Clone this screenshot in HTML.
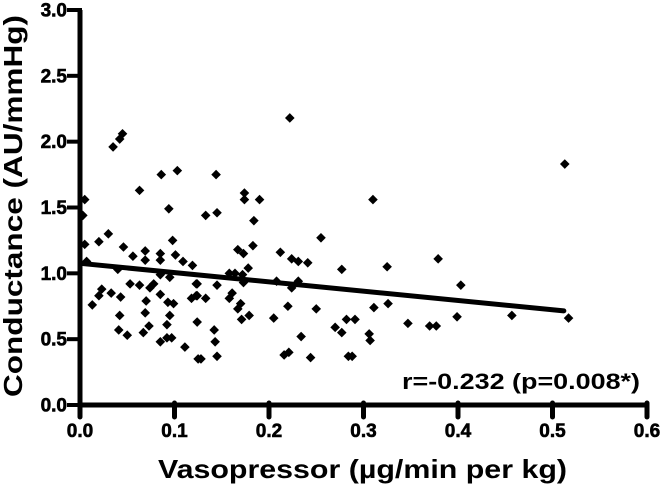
<!DOCTYPE html>
<html><head><meta charset="utf-8"><style>
html,body{margin:0;padding:0;background:#fff;}
svg{display:block;font-family:"Liberation Sans",Arial,sans-serif;font-weight:bold;}
svg text{font-weight:bold;}
.tl{font-family:"Liberation Sans",Arial,sans-serif;font-weight:700;font-size:19px;fill:#000;stroke:#000;stroke-width:0.6px;}
</style></head><body>
<svg id="chart" width="662" height="486" viewBox="0 0 662 486" xmlns="http://www.w3.org/2000/svg">
<g id="axes"></g>
<g id="pts"></g>
<g id="fit"></g>
<text x="640" y="389" text-anchor="end" font-size="22" font-weight="bold" textLength="238" lengthAdjust="spacingAndGlyphs">r=-0.232 (p=0.008*)</text>
<text x="158" y="478" font-size="26" font-weight="bold" textLength="409" lengthAdjust="spacingAndGlyphs">Vasopressor (µg/min per kg)</text>
<text transform="translate(22,206) rotate(-90)" text-anchor="middle" font-size="26" font-weight="bold" textLength="382" lengthAdjust="spacingAndGlyphs">Conductance (AU/mmHg)</text>
</svg>
<script>
const xTicks=[0,0.1,0.2,0.3,0.4,0.5,0.6];
const xTickLabels=["0.0","0.1","0.2","0.3","0.4","0.5","0.6"];
const yTicks=[0,0.5,1,1.5,2,2.5,3];
const yTickLabels=["0.0","0.5","1.0","1.5","2.0","2.5","3.0"];
const xVals=[0.045,0.042,0.035,0.086,0.103,0.063,0.005,0.003,0.094,0.03,0.005,0.020,0.098,0.046,0.056,0.069,0.069,0.085,0.085,0.101,0.109,0.119,0.007,0.04,0.085,0.095,0.053,0.063,0.074,0.078,0.123,0.023,0.020,0.033,0.043,0.085,0.070,0.093,0.099,0.118,0.123,0.013,0.042,0.069,0.095,0.092,0.073,0.041,0.05,0.067,0.092,0.097,0.085,0.111,0.125,
0.222,0.144,0.174,0.174,0.190,0.133,0.145,0.184,0.255,0.167,0.173,0.183,0.212,0.224,0.231,0.241,0.178,0.158,0.164,0.172,0.173,0.208,0.231,0.224,0.124,0.145,0.124,0.133,0.161,0.158,0.170,0.167,0.179,0.171,0.220,0.250,0.205,0.124,0.142,0.143,0.145,0.128,0.234,0.216,0.221,0.244,
0.513,0.310,0.379,0.277,0.325,0.403,0.311,0.326,0.282,0.291,0.270,0.277,0.306,0.307,0.347,0.370,0.377,0.399,0.457,0.517,0.284,0.288];
const yVals=[2.06,2.02,1.96,1.75,1.78,1.63,1.56,1.44,1.49,1.30,1.22,1.24,1.25,1.20,1.13,1.17,1.10,1.15,1.10,1.14,1.09,1.06,1.09,1.03,0.99,0.97,0.92,0.91,0.89,0.92,0.92,0.88,0.83,0.85,0.82,0.84,0.79,0.78,0.77,0.81,0.83,0.76,0.68,0.70,0.68,0.61,0.60,0.57,0.53,0.55,0.51,0.51,0.48,0.44,0.35,
2.18,1.75,1.61,1.56,1.56,1.44,1.46,1.40,1.27,1.18,1.15,1.21,1.16,1.11,1.09,1.08,1.04,1.00,1.00,0.99,0.93,0.94,0.94,0.89,0.92,0.91,0.83,0.81,0.85,0.81,0.77,0.73,0.68,0.65,0.75,0.73,0.66,0.63,0.57,0.48,0.37,0.35,0.52,0.38,0.40,0.36,
1.83,1.56,1.11,1.03,1.05,0.91,0.74,0.77,0.65,0.65,0.59,0.55,0.54,0.49,0.62,0.60,0.60,0.67,0.68,0.66,0.37,0.37];
const fitIntercept=1.076;
const fitSlope=-0.705;
const fitRange=[0,0.512];

const NS="http://www.w3.org/2000/svg";
const X=v=>80+v*945;
const Y=v=>405-v*131.67;
function mk(tag,parent,attrs){const e=document.createElementNS(NS,tag);for(const k in attrs)e.setAttribute(k,attrs[k]);parent.appendChild(e);return e;}
const axes=document.getElementById('axes');
let a=mk('line',axes,{x1:80,y1:Y(3),x2:80,y2:407.5,stroke:'#000','stroke-width':5});


a=mk('line',axes,{x1:77.5,y1:405,x2:X(0.6),y2:405,stroke:'#000','stroke-width':5});


xTicks.forEach((t,i)=>{
 const l=mk('line',axes,{x1:X(t),y1:403,x2:X(t),y2:417,stroke:'#000','stroke-width':5,'stroke-linecap':'round'});
 
 
 const tx=mk('text',axes,{x:X(t),y:437,'text-anchor':'middle','class':'tl'});
 tx.textContent=xTickLabels[i];
 
 
});
yTicks.forEach((t,i)=>{
 const l=mk('line',axes,{x1:67,y1:Y(t),x2:82,y2:Y(t),stroke:'#000','stroke-width':4});
 
 
 const tx=mk('text',axes,{x:67,y:Y(t)+6.5,'text-anchor':'end','class':'tl'});
 tx.textContent=yTickLabels[i];
 
 
});
const pts=document.getElementById('pts');
xVals.forEach((xv,i)=>{
 const cx=X(xv),cy=Y(yVals[i]),r=4.8;
 const p=mk('polygon',pts,{points:`${cx},${cy-r} ${cx+r},${cy} ${cx},${cy+r} ${cx-r},${cy}`,fill:'#000'});
 
 
});
const fit=document.getElementById('fit');
const fl=mk('line',fit,{x1:X(fitRange[0]),y1:Y(fitIntercept+fitSlope*fitRange[0]),x2:X(fitRange[1]),y2:Y(fitIntercept+fitSlope*fitRange[1]),stroke:'#000','stroke-width':5,'stroke-linecap':'round'});


</script>
</body></html>
